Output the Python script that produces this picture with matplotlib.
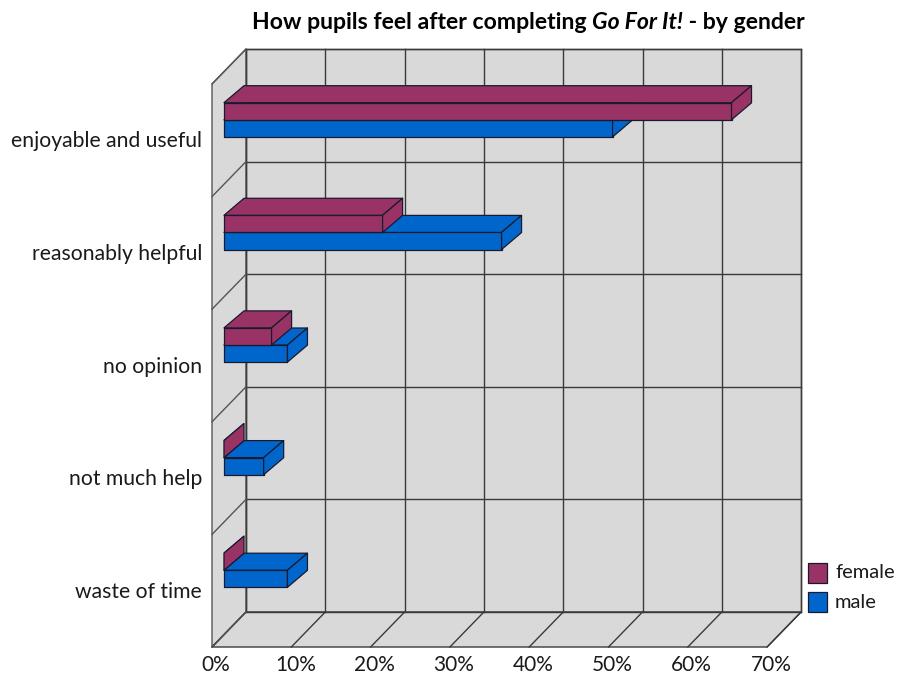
import matplotlib.pyplot as plt
from matplotlib.patches import Polygon, Rectangle

# Survey answers, bottom category first
categories = ["waste of time", "not much help", "no opinion",
              "reasonably helpful", "enjoyable and useful"]
female = [0, 0, 6, 20, 64]
male = [8, 5, 8, 35, 49]
x_ticks = [0, 10, 20, 30, 40, 50, 60, 70]
x_labels = ["0%", "10%", "20%", "30%", "40%", "50%", "60%", "70%"]

FEMALE_C = "#993366"
MALE_C = "#0066cc"
WALL_C = "#d9d9d9"
LINE_C = "#3a3a3a"

# pixel scale of the data units (percent across, category band up)
PX_PCT = 7.93
PX_CAT = 112.6
W, H = 898, 675
X0, Y0 = 212, 647

# wall depth offset and bar box geometry (data units)
WALL_DX, WALL_DY = 34 / PX_PCT, 35 / PX_CAT
BAR_X0 = 12 / PX_PCT
BAR_DX, BAR_DY = 20 / PX_PCT, 17 / PX_CAT
BAR_BOTTOM = 0.53
BAR_H = 0.152

XMAX = 70
NCAT = len(categories)

plt.rcParams["font.family"] = ["Lato", "DejaVu Sans"]

fig = plt.figure(figsize=(W / 100, H / 100), dpi=100)
ax = fig.add_axes([0, 0, 1, 1])
ax.set_xlim(-X0 / PX_PCT, (W - X0) / PX_PCT)
ax.set_ylim(-(H - Y0) / PX_CAT, Y0 / PX_CAT)
ax.axis("off")


def back(x, y):
    return (x + WALL_DX, y + WALL_DY)


# walls and floor
ax.add_patch(Polygon([back(0, 0), back(XMAX, 0), back(XMAX, NCAT), back(0, NCAT)],
                     closed=True, fc=WALL_C, ec=LINE_C, lw=1.0, zorder=1))
ax.add_patch(Polygon([(0, 0), back(0, 0), back(0, NCAT), (0, NCAT)],
                     closed=True, fc=WALL_C, ec="#555555", lw=1.0, zorder=1))
ax.add_patch(Polygon([(0, 0), (XMAX, 0), back(XMAX, 0), back(0, 0)],
                     closed=True, fc=WALL_C, ec=LINE_C, lw=1.0, zorder=1))

# gridlines on back wall, floor and side wall
for t in x_ticks:
    bx, by = back(t, 0)
    ax.plot([bx, bx], [by, by + NCAT], color=LINE_C, lw=1.0, zorder=2)
    ax.plot([t, bx], [0, by], color=LINE_C, lw=1.0, zorder=2)
for k in range(NCAT + 1):
    bx, by = back(0, k)
    ax.plot([bx, bx + XMAX], [by, by], color=LINE_C, lw=1.0, zorder=2)
    ax.plot([0, bx], [k, by], color="#555555", lw=1.0, zorder=2)


def box(v, y0, color):
    x0 = BAR_X0
    x1 = BAR_X0 + v
    y1 = y0 + BAR_H
    faces = [
        [(x0, y0), (x1, y0), (x1, y1), (x0, y1)],
        [(x0, y1), (x1, y1), (x1 + BAR_DX, y1 + BAR_DY), (x0 + BAR_DX, y1 + BAR_DY)],
        [(x1, y0), (x1 + BAR_DX, y0 + BAR_DY), (x1 + BAR_DX, y1 + BAR_DY), (x1, y1)],
    ]
    for f in faces:
        ax.add_patch(Polygon(f, closed=True, fc=color, ec="#1a1a2e", lw=0.9,
                             joinstyle="round", zorder=3))


for k in range(NCAT):
    box(male[k], k + BAR_BOTTOM, MALE_C)
    box(female[k], k + BAR_BOTTOM + BAR_H, FEMALE_C)

# category labels
for k, name in enumerate(categories):
    ax.text(-10 / PX_PCT, k + 0.49, name, ha="right", va="center",
            fontsize=15.2, color="#1a1a1a")

# x tick labels along the front floor edge
for t, lab in zip(x_ticks, x_labels):
    ax.text(t + 0.5, -18 / PX_CAT, lab, ha="center", va="center",
            fontsize=15, color="#1a1a1a")

# title, with the book name in italics
t1 = fig.text(252 / W, 1 - 29 / H, "How pupils feel after completing ",
              fontsize=16.6, fontweight="bold", va="baseline")
t2 = ax.annotate("Go For It!", xy=(1, 0), xycoords=t1, va="bottom",
                 fontsize=16.6, fontweight="bold", fontstyle="italic")
t3 = ax.annotate(" - by gender", xy=(1, 0), xycoords=t2, va="bottom",
                 fontsize=16.6, fontweight="bold")

# legend
for i, (lab, c) in enumerate([("female", FEMALE_C), ("male", MALE_C)]):
    yb = 1 - (583 + 29 * i) / H
    fig.patches.append(Rectangle((808 / W, yb), 19 / W, 20 / H, fc=c, ec="#1a1a2e",
                                 lw=0.9, transform=fig.transFigure, figure=fig))
    fig.text(835 / W, yb + 10 / H, lab, va="center", fontsize=14.5, color="#1a1a1a")

fig.savefig("out.png", dpi=100)
